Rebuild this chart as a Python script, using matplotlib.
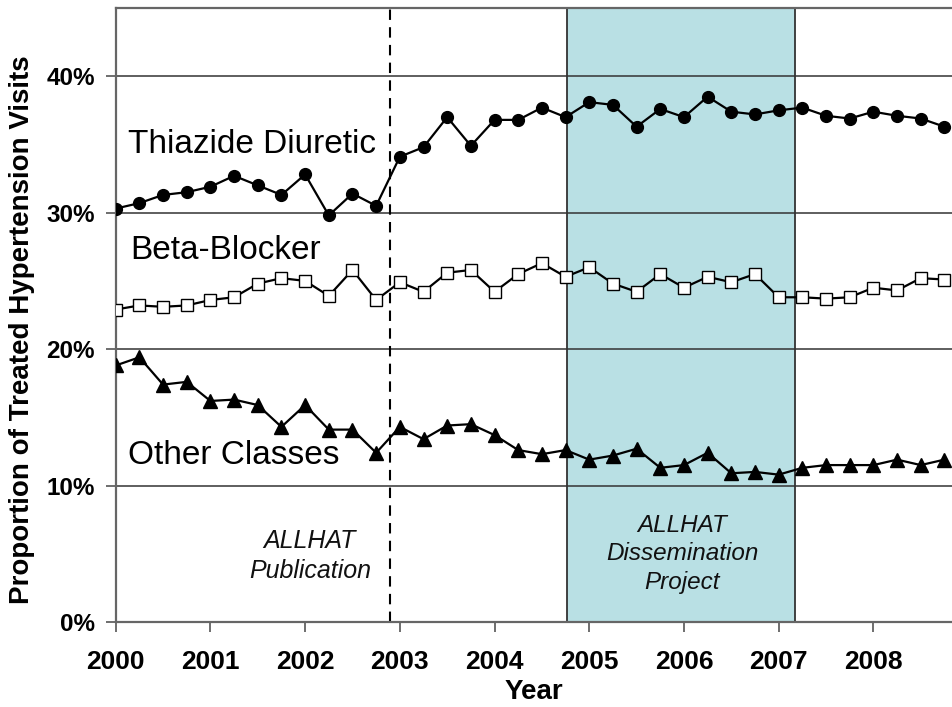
import numpy as np
import matplotlib
matplotlib.use("Agg")
import matplotlib.pyplot as plt
from matplotlib.patches import Rectangle

plt.rcParams['font.family'] = ['Liberation Sans', 'DejaVu Sans']

# quarterly visits, 2000 Q1 .. 2008 Q4
years = 2000 + np.arange(36) * 0.25

thiazide = [30.3, 30.7, 31.3, 31.5, 31.9, 32.7, 32.0, 31.3, 32.8, 29.8, 31.4, 30.5,
            34.1, 34.8, 37.0, 34.9, 36.8, 36.8, 37.7, 37.0, 38.1, 37.9, 36.3, 37.6,
            37.0, 38.5, 37.4, 37.2, 37.5, 37.7, 37.1, 36.9, 37.4, 37.1, 36.9, 36.3]

beta_blocker = [22.9, 23.2, 23.1, 23.2, 23.6, 23.8, 24.8, 25.2, 25.0, 23.9, 25.8, 23.6,
                24.9, 24.2, 25.6, 25.8, 24.2, 25.5, 26.3, 25.3, 26.0, 24.8, 24.2, 25.5,
                24.5, 25.3, 24.9, 25.5, 23.8, 23.8, 23.7, 23.8, 24.5, 24.3, 25.2, 25.1]

other = [18.8, 19.4, 17.4, 17.6, 16.2, 16.3, 15.9, 14.3, 15.9, 14.1, 14.1, 12.4,
         14.3, 13.4, 14.4, 14.5, 13.7, 12.6, 12.3, 12.6, 11.9, 12.2, 12.7, 11.3,
         11.5, 12.4, 10.9, 11.0, 10.8, 11.3, 11.5, 11.5, 11.5, 11.9, 11.5, 11.9]

publication_date = 2002.9
dissemination = (2004.77, 2007.17)

fig = plt.figure(figsize=(9.52, 7.07), dpi=100)
ax = fig.add_axes([115.7 / 952, 1 - 622 / 707, (952 - 115.7) / 952, (622 - 8) / 707])

ax.add_patch(Rectangle((dissemination[0], 0), dissemination[1] - dissemination[0], 45,
                       facecolor='#b9e0e4', edgecolor='#333333', linewidth=1.3, zorder=1))

for g in [10, 20, 30, 40]:
    ax.axhline(g, color='#333333', linewidth=1.1, zorder=2)

ax.axvline(publication_date, color='black', linestyle=(0, (5, 3.5)), linewidth=1.5, zorder=2)

ax.plot(years, thiazide, color='black', linewidth=1.6, marker='o', markersize=8.5, zorder=4)
ax.plot(years, beta_blocker, color='black', linewidth=1.6, marker='s', markersize=9,
        markerfacecolor='white', markeredgecolor='black', markeredgewidth=1.0, zorder=4)
ax.plot(years, other, color='black', linewidth=1.6, marker='^', markersize=9.5, zorder=4)

ax.text(2000.13, 35.0, 'Thiazide Diuretic', fontsize=24, va='center', ha='left', zorder=5)
ax.text(2000.15, 27.2, 'Beta-Blocker', fontsize=24, va='center', ha='left', zorder=5)
ax.text(2000.13, 12.2, 'Other Classes', fontsize=24, va='center', ha='left', zorder=5)

ax.text(2002.05, 4.85, 'ALLHAT\nPublication', fontsize=18, style='italic',
        ha='center', va='center', linespacing=1.3, color='#111111')
ax.text(2005.98, 5.0, 'ALLHAT\nDissemination\nProject', fontsize=17.5, style='italic',
        ha='center', va='center', linespacing=1.3, color='#111111')

ax.set_xlim(2000, 2008.83)
ax.set_ylim(0, 45)
ax.set_xticks(range(2000, 2009))
ax.set_yticks([0, 10, 20, 30, 40])
ax.set_yticklabels(['0%', '10%', '20%', '30%', '40%'])
ax.tick_params(axis='x', direction='out', length=7, width=1.2, color='#555555',
               labelsize=19, pad=13)
ax.tick_params(axis='y', direction='out', length=7, width=1.2, color='#555555',
               labelsize=17.5, pad=8)
for lab in ax.get_xticklabels() + ax.get_yticklabels():
    lab.set_fontweight('bold')

for side in ['left', 'top', 'bottom']:
    ax.spines[side].set_color('#666666')
    ax.spines[side].set_linewidth(1.6)
ax.spines['right'].set_visible(False)

ax.set_xlabel('Year', fontsize=20, fontweight='bold', labelpad=4)
fig.text(22 / 952, 1 - 330 / 707, 'Proportion of Treated Hypertension Visits', rotation=90,
         fontsize=20, fontweight='bold', ha='center', va='center')

fig.savefig('out.png', dpi=100)
